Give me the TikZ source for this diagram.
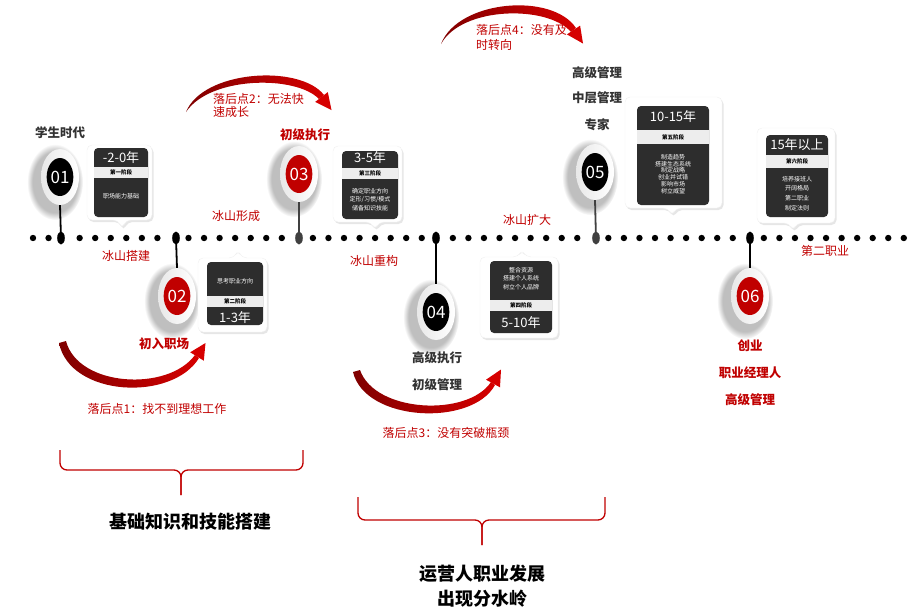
\documentclass[tikz,border=0pt]{standalone}
\usepackage{fontspec}
\setmainfont{Noto Sans CJK SC}
\usetikzlibrary{shapes.geometric,shadows,fadings}
\definecolor{myred}{HTML}{C00000}
\definecolor{dred}{HTML}{7F0000}
\definecolor{bred}{HTML}{D60000}
\definecolor{labgray}{HTML}{333333}
\definecolor{boxdark}{HTML}{2D2D2D}
\definecolor{bandgray}{HTML}{EDEDED}
\begin{document}
\begin{tikzpicture}[x=1pt,y=-1pt,
 redlab/.style={text=myred, inner sep=0, align=left, font=\fontsize{12}{14}\selectfont},
 redbold/.style={text=myred, inner sep=0, font=\bfseries\fontsize{12.5}{14}\selectfont},
 graylab/.style={text=labgray, inner sep=0, font=\bfseries\fontsize{12.5}{14}\selectfont},
 hdr/.style={text=white, inner sep=0, font=\fontsize{13}{14}\selectfont},
 bandtxt/.style={text=black, inner sep=0, font=\bfseries\fontsize{5.5}{6}\selectfont},
 bodytxt/.style={text=white, inner sep=0, align=center},
 outerbox/.style={fill=white, draw=gray!12, rounded corners=5, drop shadow={opacity=0.2, shadow xshift=1.5pt, shadow yshift=-2pt}},
 innerbox/.style={fill=boxdark, rounded corners=4},
 redarc/.style={left color=dred, right color=bred, draw=none},
 brace/.style={draw=myred, line width=1.3, rounded corners=7},
 bottomlab/.style={text=black, inner sep=0, align=center, font=\bfseries\fontsize{18}{25}\selectfont},
 tdot/.style={ellipse, fill=black, inner sep=0, minimum width=7.6, minimum height=13},
 outerell/.style={ellipse, inner sep=0, minimum width=38, minimum height=56, left color=gray!18, right color=white},
 innerell/.style={ellipse, inner sep=0, minimum width=26, minimum height=38, text=white, font=\fontsize{17}{18}\selectfont},
 vline/.style={line width=1.8}
]
\useasboundingbox (0,0) rectangle (916,611);

% ---- timeline dots ----
\foreach \k in {0,1,3,4,...,8,10,11,...,16,18,19,...,25,27,28,...,35,37,38,...,45,47,48,...,56}
  \fill (33+15.55*\k,238) circle (3.2);
\node[tdot] (d1) at (61,238) {};
\node[tdot] (d2) at (176,238) {};
\node[tdot, fill=black!75] (d3) at (299,238) {};
\node[tdot] (d4) at (436,238) {};
\node[tdot, fill=black!75] (d5) at (596,238) {};
\node[tdot] (d6) at (750,238) {};

% ---- markers ----
\foreach \n/\x/\y/\c/\t in {1/60/177/black/01, 2/177/296/myred/02, 3/299/174/myred/03, 4/436/312/black/04, 5/595/172/black/05, 6/750/296/myred/06} {
  \fill[black, opacity=0.25, path fading=circle with fuzzy edge 20 percent] (\x-5,\y+5) ellipse (28 and 38);
  \node[outerell] (o\n) at (\x,\y) {};
  \node[innerell, fill=\c] (m\n) at (\x,\y) {\t};
}
\draw[vline] (o1.south) -- (d1.center);
\draw[vline] (d2.center) -- (o2.north);
\draw[vline, draw=black!75] (o3.south) -- (d3.center);
\draw[vline] (d4.center) -- (o4.north);
\draw[vline, draw=black!75] (o5.south) -- (d5.center);
\draw[vline] (d6.center) -- (o6.north);

% ---- box 1 ----
\path[outerbox] (87,145) -- (152,145) -- (152,220) -- (126,220) -- (122,229) -- (118,220) -- (87,220) -- cycle;
\fill[innerbox] (94,148) rectangle (148,217);
\fill[bandgray] (94,167) rectangle (148,178);
\node[hdr] (b1h) at (121,158) {-2-0年};
\node[bandtxt] (b1b) at (121,172.5) {第一阶段};
\node[bodytxt, font=\fontsize{6}{7.5}\selectfont] (b1t) at (121,196) {职场能力基础};

% ---- box 2 ----
\path[outerbox] (198,258) -- (234,258) -- (238,250) -- (242,258) -- (267,258) -- (267,332) -- (198,332) -- cycle;
\fill[innerbox] (207,262) rectangle (263,325);
\fill[bandgray] (207,296) rectangle (263,307);
\node[bodytxt, font=\fontsize{6}{7.5}\selectfont] (b2t) at (235,281) {思考职业方向};
\node[bandtxt] (b2b) at (235,301.5) {第二阶段};
\node[hdr] (b2h) at (235,318) {1-3年};

% ---- box 3 ----
\path[outerbox] (333,146) -- (402,146) -- (402,222) -- (379,222) -- (375,230) -- (371,222) -- (333,222) -- cycle;
\fill[innerbox] (342,151) rectangle (398,219);
\fill[bandgray] (342,168) rectangle (398,178.5);
\node[hdr] (b3h) at (370,158) {3-5年};
\node[bandtxt] (b3b) at (370,173) {第三阶段};
\node[bodytxt, font=\fontsize{6}{8.5}\selectfont] (b3t) at (370,199.5) {确定职业方向\\定形/习惯/模式\\储备知识技能};

% ---- box 4 ----
\path[outerbox] (480,257) -- (518,257) -- (522,250) -- (526,257) -- (558,257) -- (558,338) -- (480,338) -- cycle;
\fill[innerbox] (490,261) rectangle (552,333);
\fill[bandgray] (490,299.5) rectangle (552,310.5);
\node[bodytxt, font=\fontsize{6}{8.5}\selectfont] (b4t) at (521,278.5) {整合资源\\搭建个人系统\\树立个人品牌};
\node[bandtxt] (b4b) at (521,305) {第四阶段};
\node[hdr] (b4h) at (521,323) {5-10年};

% ---- box 5 ----
\path[outerbox] (625,97) -- (722,97) -- (722,208) -- (676,208) -- (672,216) -- (668,208) -- (625,208) -- cycle;
\fill[innerbox] (637,106) rectangle (709,205);
\fill[bandgray] (637,130) rectangle (709,144);
\node[hdr] (b5h) at (673,117) {10-15年};
\node[bandtxt] (b5b) at (673,137) {第五阶段};
\node[bodytxt, font=\fontsize{6}{6.8}\selectfont] (b5t) at (673,174) {制造趋势\\搭建生态系统\\制定战略\\创业并试错\\影响市场\\树立威望};

% ---- box 6 ----
\path[outerbox] (757,128) -- (835,128) -- (835,223) -- (797,223) -- (793,231) -- (789,223) -- (757,223) -- cycle;
\fill[innerbox] (766,135) rectangle (828,217);
\fill[bandgray] (766,155) rectangle (828,168);
\node[hdr] (b6h) at (797,145) {15年以上};
\node[bandtxt] (b6b) at (797,161.5) {第六阶段};
\node[bodytxt, font=\fontsize{6}{9.7}\selectfont] (b6t) at (797,193.5) {培养接班人\\开阔格局\\第二职业\\制定法则};

% ---- labels ----
\node[graylab] (l1) at (60,133) {学生时代};
\node[redbold] (l3) at (305,135) {初级执行};
\node[graylab] (l5a) at (597,73) {高级管理};
\node[graylab] (l5b) at (597,98) {中层管理};
\node[graylab] (l5c) at (597,125) {专家};
\node[redbold] (l2) at (164,344) {初入职场};
\node[graylab] (l4a) at (437,358) {高级执行};
\node[graylab] (l4b) at (437,385) {初级管理};
\node[redbold] (l6a) at (750,346) {创业};
\node[redbold] (l6b) at (750,373) {职业经理人};
\node[redbold] (l6c) at (750,400) {高级管理};

\node[redlab] (i1) at (126,256) {冰山搭建};
\node[redlab] (i2) at (236,216) {冰山形成};
\node[redlab] (i3) at (374,261) {冰山重构};
\node[redlab] (i4) at (527,220) {冰山扩大};
\node[redlab] (i5) at (825,251) {第二职业};

% ---- arcs ----
\shade[redarc] (186,112) .. controls (203,70) and (300,64) .. (324,95) -- (319,99) .. controls (296,75) and (210,76) .. (186,112) -- cycle;
\fill[bred] (315.2,101.9) -- (327.8,92.1) -- (331.5,110) -- cycle;
\node[redlab, anchor=north west, font=\fontsize{12}{13}\selectfont] (f2) at (213,93) {落后点2：无法快\\速成长};

\shade[redarc] (441,44) .. controls (458,0) and (552,-8) .. (576,28) -- (571,32) .. controls (548,5) and (462,6) .. (441,44) -- cycle;
\fill[bred] (566.9,34.4) -- (580.1,25.6) -- (583,43.5) -- cycle;
\node[redlab, anchor=north west, font=\fontsize{12}{15.5}\selectfont] (f4) at (476,24) {落后点4：没有及\\时转向};

\shade[redarc] (59,343) .. controls (70,397) and (172,402) .. (199,358) -- (195,355) .. controls (168,392) and (78,387) .. (66,341) -- cycle;
\fill[bred] (190.2,352.3) -- (203.8,360.7) -- (205.5,343) -- cycle;
\node[redlab] (f1) at (157,409) {落后点1：找不到理想工作};

\shade[redarc] (353,372) .. controls (365,422) and (472,427) .. (495,385) -- (491,382) .. controls (468,417) and (375,413) .. (360,370) -- cycle;
\fill[bred] (486,379.7) -- (500,387.3) -- (501,369.5) -- cycle;
\node[redlab] (f3) at (446,433) {落后点3：没有突破瓶颈};

% ---- braces ----
\coordinate (p1) at (181,495);
\draw[brace] (60,450) -- (60,470) -- (181,470) -- (p1);
\draw[brace] (303,450) -- (303,470) -- (181,470) -- (p1);
\node[bottomlab] (g1) at (190,522) {基础知识和技能搭建};

\coordinate (p2) at (482,545);
\draw[brace] (358,497) -- (358,520) -- (482,520) -- (p2);
\draw[brace] (605,497) -- (605,520) -- (482,520) -- (p2);
\node[bottomlab] (g2) at (482,586) {运营人职业发展\\出现分水岭};
\end{tikzpicture}
\end{document}
